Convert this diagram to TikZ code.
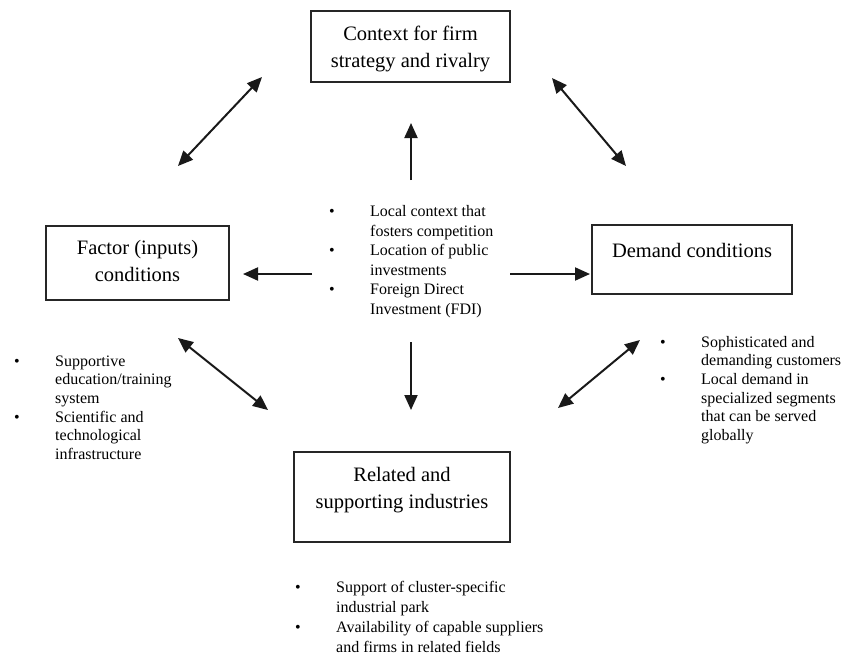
\documentclass[tikz,border=0pt]{standalone}
\usepackage{fontspec}
\setmainfont{Liberation Serif}
\usetikzlibrary{arrows.meta}
\tikzset{
  box/.style={draw=black!85, line width=1.5pt, rectangle, inner sep=0pt},
  boxtext/.style={align=center, inner sep=0pt, font=\fontsize{20.5}{27}\selectfont},
  listtext/.style={anchor=north west, inner sep=0pt},
  arr/.style={draw=black!90, line width=2pt, -{Triangle[length=15pt,width=13pt]}},
  darr/.style={draw=black!90, line width=2pt, {Triangle[length=15pt,width=13pt]}-{Triangle[length=15pt,width=13pt]}}
}
\newcommand{\bulletlist}[2]{{\fontsize{16}{#1}\selectfont\begin{tabular}{@{}p{41pt}@{}l@{}}#2\end{tabular}}}
\begin{document}
\begin{tikzpicture}[x=1pt,y=-1pt]
\useasboundingbox (0,0) rectangle (844,656);
% boxes
\node[box, minimum width=199pt, minimum height=71pt] (ctx) at (410.5,46.5) {};
\node[box, minimum width=183pt, minimum height=74pt] (fac) at (137.5,263) {};
\node[box, minimum width=200pt, minimum height=69pt] (dem) at (692,259.5) {};
\node[box, minimum width=216pt, minimum height=90pt] (rel) at (402,497) {};
% box texts
\node[boxtext] (ctxt) at (410.5,48.5) {Context for firm\\strategy and rivalry};
\node[boxtext] (ftxt) at (137.5,261) {Factor (inputs)\\conditions};
\node[boxtext] (dtxt) at (692,250) {Demand conditions};
\node[boxtext] (rtxt) at (402,490) {Related and\\supporting industries};
% lists
\node[listtext] (clist) at (329,202.5) {\bulletlist{19.6pt}{\textbullet & Local context that\\ & fosters competition\\ \textbullet & Location of public\\ & investments\\ \textbullet & Foreign Direct\\ & Investment (FDI)}};
\node[listtext] (flist) at (14,353) {\bulletlist{18.6pt}{\textbullet & Supportive\\ & education/training\\ & system\\ \textbullet & Scientific and\\ & technological\\ & infrastructure}};
\node[listtext] (dlist) at (660,334) {\bulletlist{18.6pt}{\textbullet & Sophisticated and\\ & demanding customers\\ \textbullet & Local demand in\\ & specialized segments\\ & that can be served\\ & globally}};
\node[listtext] (rlist) at (295,578) {\bulletlist{20pt}{\textbullet & Support of cluster-specific\\ & industrial park\\ \textbullet & Availability of capable suppliers\\ & and firms in related fields}};
% arrow end points
\coordinate (a1s) at (178,166); \coordinate (a1e) at (262,77);
\coordinate (a2s) at (552,78);  \coordinate (a2e) at (626,166);
\coordinate (ups) at (411,180); \coordinate (upe) at (411,123);
\coordinate (lfs) at (312,274); \coordinate (lfe) at (243,274);
\coordinate (rts) at (510,274); \coordinate (rte) at (590,274);
\coordinate (dns) at (411,342); \coordinate (dne) at (411,410);
\coordinate (b1s) at (178,338); \coordinate (b1e) at (268,410);
\coordinate (b2s) at (558,408); \coordinate (b2e) at (640,340);
% arrows
\draw[darr] (a1s) -- (a1e);
\draw[darr] (a2s) -- (a2e);
\draw[arr] (ups) -- (upe);
\draw[arr] (lfs) -- (lfe);
\draw[arr] (rts) -- (rte);
\draw[arr] (dns) -- (dne);
\draw[darr] (b1s) -- (b1e);
\draw[darr] (b2s) -- (b2e);
\end{tikzpicture}
\end{document}
